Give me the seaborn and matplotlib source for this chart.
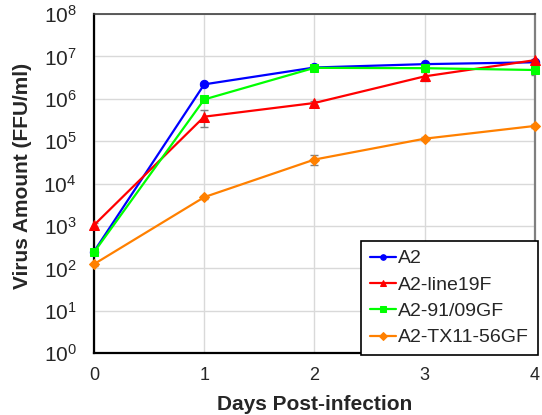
import numpy as np
import pandas as pd
import matplotlib
matplotlib.use("Agg")
import matplotlib.pyplot as plt
import matplotlib.ticker as mticker
import seaborn as sns

days = [0, 1, 2, 3, 4]
series_names = ["A2", "A2-line19F", "A2-91/09GF", "A2-TX11-56GF"]

a2 = [250, 2.2e6, 5.5e6, 6.6e6, 7.3e6]
a2_line19f = [1050, 3.8e5, 8.0e5, 3.4e6, 8.2e6]
a2_9109gf = [240, 9.7e5, 5.4e6, 5.3e6, 4.8e6]
a2_tx1156gf = [126, 4.8e3, 3.7e4, 1.15e5, 2.3e5]

a2_err = [20, 1.5e5, 3e5, 4e5, 3e5]
a2_line19f_err = [100, 1.6e5, 1.0e5, 0.8e6, 0.6e6]
a2_9109gf_err = [20, 1.0e5, 3e5, 3e5, 1.2e6]
a2_tx1156gf_err = [10, 4e2, 1.0e4, 1e4, 2e4]

values = [a2, a2_line19f, a2_9109gf, a2_tx1156gf]
errors = [a2_err, a2_line19f_err, a2_9109gf_err, a2_tx1156gf_err]
colors = ["#0000FF", "#FF0000", "#00FF00", "#FF8000"]
markers = ["o", "^", "s", "D"]
msizes = [6, 7, 6, 5]

sns.set_style("white")
plt.rcParams["font.family"] = ["Liberation Sans", "DejaVu Sans"]
plt.rcParams["mathtext.fontset"] = "custom"
plt.rcParams["mathtext.rm"] = "Liberation Sans"

df = pd.DataFrame({
    "day": days * len(series_names),
    "amount": np.concatenate(values),
    "err": np.concatenate(errors),
    "strain": np.repeat(series_names, len(days)),
})

fig = plt.figure(figsize=(5.42, 4.15), dpi=100)
ax = fig.add_axes([0.1734, 0.149, 0.8136, 0.817])

# error bars first, so lines sit on top
for name in series_names:
    sub = df[df["strain"] == name]
    ax.errorbar(sub["day"], sub["amount"], yerr=sub["err"], fmt="none",
                ecolor="#7f7f7f", elinewidth=1, capsize=3, zorder=2)

for name, col, mk, ms in zip(series_names, colors, markers, msizes):
    sub = df[df["strain"] == name]
    sns.lineplot(data=sub, x="day", y="amount", ax=ax, color=col,
                 marker=mk, markersize=ms, markeredgecolor=col,
                 linewidth=1.6, label=name, clip_on=False, zorder=3)

ax.set_yscale("log")
ax.set_ylim(1, 1e8)
ax.set_xlim(0, 4)
ax.set_xticks(days)
ax.yaxis.set_major_locator(mticker.LogLocator(base=10, numticks=20))
ax.yaxis.set_minor_locator(mticker.LogLocator(base=10, subs=np.arange(2, 10), numticks=20))
ax.yaxis.set_minor_formatter(mticker.NullFormatter())
ax.yaxis.set_major_formatter(mticker.FuncFormatter(
    lambda v, p: r"$\mathregular{10^{%d}}$" % round(np.log10(v))))

ax.grid(True, which="major", color="#d9d9d9", linewidth=1)
ax.set_axisbelow(True)

ax.tick_params(axis="y", which="major", direction="inout", length=9, width=1.5,
               labelsize=15, pad=8, color="black")
ax.tick_params(axis="y", which="minor", direction="out", length=4, width=1, color="black")
ax.tick_params(axis="x", length=0, labelsize=13, pad=10)

for side in ["left", "bottom"]:
    ax.spines[side].set_color("black")
    ax.spines[side].set_linewidth(1.6)
ax.spines["top"].set_color("#404040")
ax.spines["top"].set_linewidth(1.2)
ax.spines["right"].set_color("#7f7f7f")
ax.spines["right"].set_linewidth(1.6)

ax.set_xlabel("Days Post-infection", fontsize=15, fontweight="bold", labelpad=8)
ax.set_ylabel("Virus Amount (FFU/ml)", fontsize=15, fontweight="bold")
ax.yaxis.set_label_coords(-0.141, 0.524)

leg = ax.legend(loc="lower right", bbox_to_anchor=(1.007, -0.006), borderaxespad=0,
                fontsize=14, frameon=True, fancybox=False, edgecolor="black",
                framealpha=1, handlelength=1.35, handletextpad=0.1,
                borderpad=0.45, labelspacing=0.45)
leg.get_frame().set_linewidth(1.2)
for h in leg.legend_handles:
    h.set_markersize(4)

fig.savefig("out.png", dpi=100)
